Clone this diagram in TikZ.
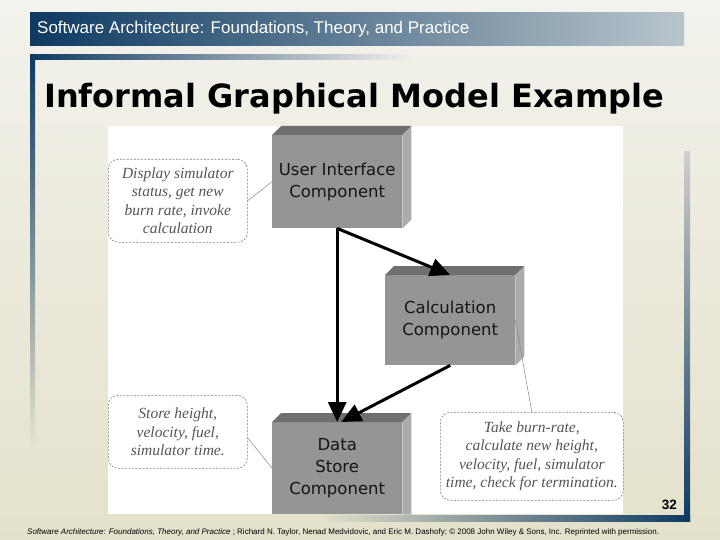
\documentclass[tikz,border=0pt]{standalone}
\usepackage{fontspec}
\setmainfont{Liberation Serif}
\newfontfamily\arialf{Liberation Sans}
\newfontfamily\dejavuf{DejaVu Sans}
\usetikzlibrary{arrows.meta,calc}
\definecolor{navy}{HTML}{0D3A62}
\definecolor{bgtop}{HTML}{F3F2EC}
\definecolor{bgbot}{HTML}{E4E1CB}
\definecolor{hdrmid}{HTML}{2F5878}
\definecolor{hdrright}{HTML}{B9C5CC}
\definecolor{facegray}{HTML}{959595}
\definecolor{topgray}{HTML}{6F6F6F}
\definecolor{sidegray}{HTML}{ABABAB}
\definecolor{textdark}{HTML}{151515}
\definecolor{notegray}{HTML}{7A7A7A}
\definecolor{notetext}{HTML}{555555}
\definecolor{linkgray}{HTML}{888888}
\tikzset{
  front/.style={fill=facegray, draw=none, minimum width=130pt, anchor=north west,
    inner sep=0pt, align=center, font=\dejavuf\fontsize{16.5}{22}\selectfont, text=textdark},
  topface/.style={fill=topgray},
  sideface/.style={fill=sidegray},
  note/.style={draw=notegray, dash pattern=on 2pt off 1.5pt, rounded corners=10pt,
    line width=0.6pt, fill=white, anchor=north west, inner sep=0pt, align=center,
    font=\itshape\fontsize{15.5}{18.5}\selectfont, text=notetext},
  link/.style={draw=linkgray, line width=0.5pt},
  arr/.style={line width=3pt, -{Triangle[length=20pt,width=18pt]}}
}
\begin{document}
\begin{tikzpicture}[x=1pt,y=-1pt]
\useasboundingbox (0,0) rectangle (720,540);
\shade[top color=bgtop, bottom color=bgbot] (0,0) rectangle (720,540);
% header bar
\shade[left color=navy, middle color=hdrmid, right color=hdrright] (30,13) rectangle (684,46);
\node[anchor=west, text=white, font=\arialf\fontsize{17}{19}\selectfont, inner sep=0pt] (hdr) at (37,29.5)
  {Software Architecture: Foundations, Theory, and Practice};
% frame bars
\shade[left color=navy, right color=bgtop] (30,55) rectangle (415,60);
\shade[top color=navy, middle color=navy!60!bgbot, bottom color=bgbot] (30,55) rectangle (35,442);
\shade[top color=bgtop!70!gray, middle color=navy!75!bgtop, bottom color=navy] (684,152) rectangle (690,521);
\shade[left color=bgbot, middle color=navy!70!bgbot, right color=navy] (320,515) rectangle (690,521);
% title
\node[anchor=base west, font=\dejavuf\bfseries\fontsize{32}{36}\selectfont, inner sep=0pt] (title) at (44,108)
  {Informal Graphical Model Example};
% white picture area
\fill[white] (108,126) rectangle (623,514);
% components
\node[front, minimum height=93pt] (ui) at (272,135) {User Interface\\Component};
\fill[topface] (ui.north west) -- ++(9,-9) -- ([shift={(9,-9)}]ui.north east) -- (ui.north east) -- cycle;
\fill[sideface] (ui.north east) -- ++(9,-9) -- ([shift={(9,-9)}]ui.south east) -- (ui.south east) -- cycle;

\node[front, minimum height=90pt] (calc) at (385,275) {Calculation\\Component};
\fill[topface] (calc.north west) -- ++(9,-9) -- ([shift={(9,-9)}]calc.north east) -- (calc.north east) -- cycle;
\fill[sideface] (calc.north east) -- ++(9,-9) -- ([shift={(9,-9)}]calc.south east) -- (calc.south east) -- cycle;

\node[front, minimum height=92pt] (ds) at (272,422) {Data\\Store\\Component};
\fill[topface] (ds.north west) -- ++(9,-9) -- ([shift={(9,-9)}]ds.north east) -- (ds.north east) -- cycle;
\fill[sideface] (ds.north east) -- ++(9,-9) -- ([shift={(9,0)}]ds.south east) -- (ds.south east) -- cycle;
% notes
\node[note, minimum width=139pt, minimum height=83pt] (n1) at (108,159)
  {Display simulator\\status, get new\\burn rate, invoke\\calculation};
\node[note, minimum width=139pt, minimum height=73pt] (n2) at (108,395)
  {Store height,\\velocity, fuel,\\simulator time.};
\node[note, minimum width=183pt, minimum height=88pt] (n3) at (440,412)
  {Take burn-rate,\\calculate new height,\\velocity, fuel, simulator\\time, check for termination.};
\draw[link] (n1.east) -- (ui.west);
\draw[link] ([shift={(0,6)}]n2.east) -- (ds.west);
\draw[link] (calc.east) -- (n3.north);
% connectors
\draw[arr] (ui.south) -- (calc.north);
\draw[arr] (ui.south) -- (ds.north);
\draw[arr] (calc.south) -- ([shift={(4,0)}]ds.north);
% page number and footer
\node[anchor=base east, font=\arialf\bfseries\fontsize{13.5}{16}\selectfont, inner sep=0pt] (pg) at (677,509) {32};
\node[anchor=base west, font=\arialf\fontsize{8}{9}\selectfont, inner sep=0pt] (foot) at (27,534)
  {\textit{Software Architecture: Foundations, Theory, and Practice} ; Richard N. Taylor, Nenad Medvidovic, and Eric M. Dashofy; © 2008 John Wiley \& Sons, Inc. Reprinted with permission.};
\end{tikzpicture}
\end{document}
